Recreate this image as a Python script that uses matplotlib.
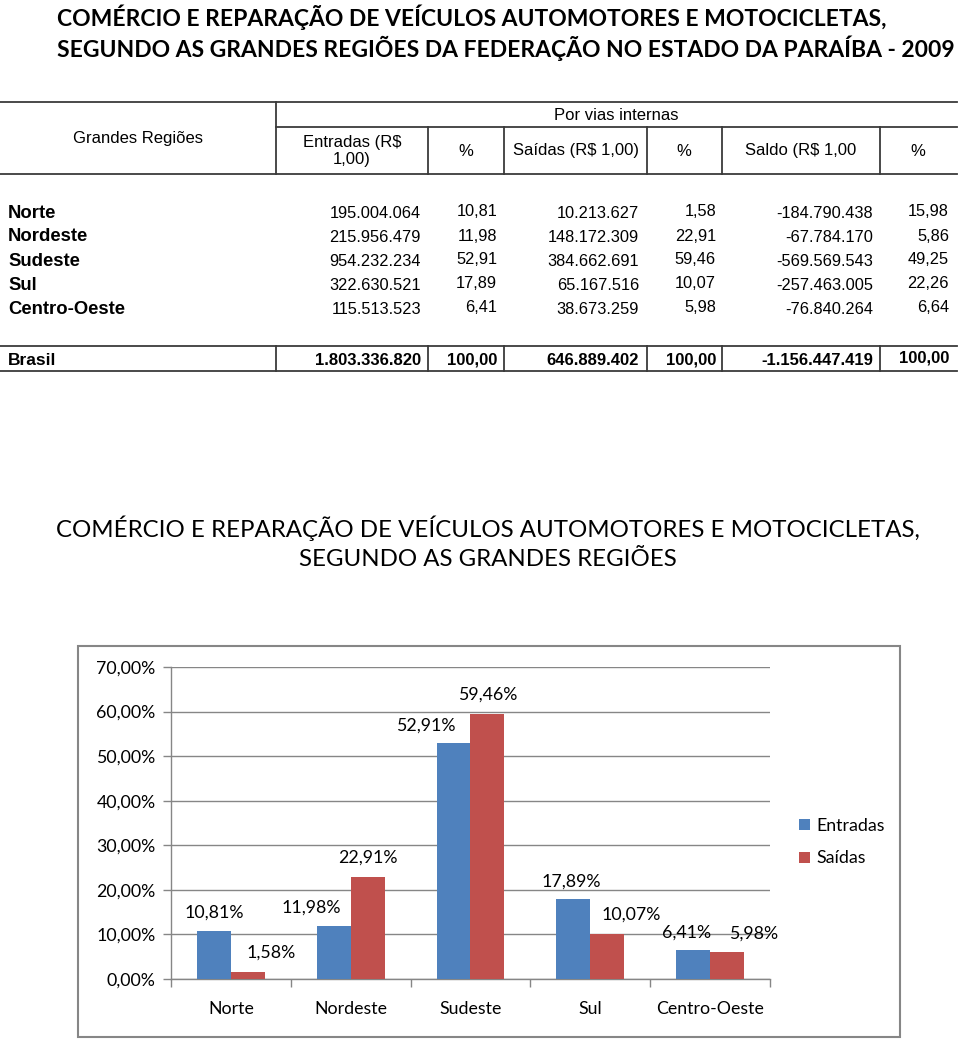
import numpy as np
import matplotlib.pyplot as plt
from matplotlib.lines import Line2D
from matplotlib.patches import Rectangle

# Data
regioes = ["Norte", "Nordeste", "Sudeste", "Sul", "Centro-Oeste"]
entradas = [195004064, 215956479, 954232234, 322630521, 115513523]
entradas_pct = [10.81, 11.98, 52.91, 17.89, 6.41]
saidas = [10213627, 148172309, 384662691, 65167516, 38673259]
saidas_pct = [1.58, 22.91, 59.46, 10.07, 5.98]
saldo = [-184790438, -67784170, -569569543, -257463005, -76840264]
saldo_pct = [15.98, 5.86, 49.25, 22.26, 6.64]
total_label = "Brasil"
total_entradas = 1803336820
total_saidas = 646889402
total_saldo = -1156447419
total_pct = 100.00

W, H = 960, 1039


def fx(x):
    return x / W


def fy(y):
    return 1 - y / H


def num(v):
    return f"{v:,}".replace(",", ".")


def pct(v):
    return f"{v:.2f}".replace(".", ",")


fig = plt.figure(figsize=(W / 100, H / 100), dpi=100)

# Top title
title_font = "Lato"
fig.text(fx(57), fy(17), "COMÉRCIO E REPARAÇÃO DE VEÍCULOS AUTOMOTORES E MOTOCICLETAS,",
         ha="left", va="center", fontsize=16.5, fontweight="bold", family=title_font)
fig.text(fx(57), fy(48), "SEGUNDO AS GRANDES REGIÕES DA FEDERAÇÃO NO ESTADO DA PARAÍBA - 2009",
         ha="left", va="center", fontsize=16.5, fontweight="bold", family=title_font)

# Table
tab = "Liberation Sans"
line_kw = dict(color="#3a3a3a", lw=1.3)


def hline(y, x0, x1):
    fig.add_artist(Line2D([fx(x0), fx(x1)], [fy(y), fy(y)], **line_kw))


def vline(x, y0, y1):
    fig.add_artist(Line2D([fx(x), fx(x)], [fy(y0), fy(y1)], **line_kw))


hline(102, 0, 957)
hline(127, 276, 957)
hline(174, 0, 957)
hline(346, 0, 957)
hline(371, 0, 957)
vline(276, 102, 174)
for xv in [428, 504, 647, 722, 880]:
    vline(xv, 127, 174)
for xv in [276, 428, 504, 647, 722, 880]:
    vline(xv, 346, 371)

hdr = dict(ha="center", va="center", fontsize=12, family=tab)
fig.text(fx(138), fy(138), "Grandes Regiões", **hdr)
fig.text(fx(616), fy(115), "Por vias internas", **hdr)
fig.text(fx(352), fy(151), "Entradas (R$\n1,00)", linespacing=1.2, **hdr)
fig.text(fx(466), fy(151), "%", **hdr)
fig.text(fx(576), fy(151), "Saídas (R$ 1,00)", **hdr)
fig.text(fx(684), fy(151), "%", **hdr)
fig.text(fx(801), fy(151), "Saldo (R$ 1,00", **hdr)
fig.text(fx(918), fy(151), "%", **hdr)

row_y = [214, 238, 262, 286, 310]
cell = dict(ha="right", va="center", fontsize=11.8, family=tab)
for i, r in enumerate(regioes):
    y = row_y[i]
    fig.text(fx(8), fy(y - 1), r, ha="left", va="center", fontsize=13.3,
             fontweight="bold", family=tab)
    fig.text(fx(421), fy(y), num(entradas[i]), **cell)
    fig.text(fx(497), fy(y - 2), pct(entradas_pct[i]), **cell)
    fig.text(fx(639), fy(y), num(saidas[i]), **cell)
    fig.text(fx(716), fy(y - 2), pct(saidas_pct[i]), **cell)
    fig.text(fx(873), fy(y), num(saldo[i]), **cell)
    fig.text(fx(949), fy(y - 2), pct(saldo_pct[i]), **cell)

bold = dict(ha="right", va="center", fontsize=12, fontweight="bold", family=tab)
fig.text(fx(8), fy(360), total_label, ha="left", va="center", fontsize=12.5,
         fontweight="bold", family=tab)
fig.text(fx(421), fy(360), num(total_entradas), **bold)
fig.text(fx(497), fy(360), pct(total_pct), **bold)
fig.text(fx(639), fy(360), num(total_saidas), **bold)
fig.text(fx(716), fy(360), pct(total_pct), **bold)
fig.text(fx(873), fy(360), num(total_saldo), **bold)
fig.text(fx(949), fy(358), pct(total_pct), **bold)

# Chart title
fig.text(fx(488), fy(543), "COMÉRCIO E REPARAÇÃO DE VEÍCULOS AUTOMOTORES E MOTOCICLETAS,\nSEGUNDO AS GRANDES REGIÕES",
         ha="center", va="center", fontsize=17.3, family=title_font, linespacing=1.45)

# Chart border
fig.add_artist(Rectangle((fx(78), fy(1037)), fx(900 - 78), (1037 - 646) / H,
                         transform=fig.transFigure, fill=False,
                         edgecolor="#868686", lw=1.5))

gray = "#868686"
ax = fig.add_axes([fx(171), fy(979), fx(770 - 171), (979 - 667) / H])
x = np.arange(len(regioes))
w = 0.283
ax.bar(x - w / 2, entradas_pct, w, color="#4F81BD", label="Entradas", zorder=3)
ax.bar(x + w / 2, saidas_pct, w, color="#C0504D", label="Saídas", zorder=3)
ax.set_xlim(-0.5, 4.5)
ax.set_ylim(0, 70)
ax.set_yticks(np.arange(0, 71, 10))
ax.set_yticklabels([pct(v) + "%" for v in np.arange(0, 71, 10)],
                   family=title_font, fontsize=12.8)
ax.yaxis.grid(True, color=gray, lw=1)
ax.set_axisbelow(True)
ax.set_xticks(np.arange(-0.5, 4.6, 1))
ax.set_xticklabels([])
ax.set_xticks(x, minor=True)
ax.set_xticklabels(regioes, minor=True, family=title_font, fontsize=12.8)
ax.tick_params(axis="x", which="major", length=6, color=gray, width=1)
ax.tick_params(axis="x", which="minor", length=0, pad=16)
ax.tick_params(axis="y", length=6, color=gray, width=1, pad=5)
for s in ["top", "right"]:
    ax.spines[s].set_visible(False)
for s in ["left", "bottom"]:
    ax.spines[s].set_color(gray)
    ax.spines[s].set_linewidth(1)

# value labels (offsets in pixels, as placed in the original)
off_e = [0, -22, -28, -2, -7]
off_s = [23, 0, 0, 24, 27]
for i in range(len(regioes)):
    ax.annotate(pct(entradas_pct[i]) + "%", (x[i] - w / 2, entradas_pct[i]),
                xytext=(off_e[i], 18), textcoords="offset pixels",
                ha="center", va="center", family=title_font, fontsize=12.8)
    ax.annotate(pct(saidas_pct[i]) + "%", (x[i] + w / 2, saidas_pct[i]),
                xytext=(off_s[i], 19), textcoords="offset pixels",
                ha="center", va="center", family=title_font, fontsize=12.8)

fig.legend(loc="center left", bbox_to_anchor=(fx(783), fy(842)),
           frameon=False, prop={"family": title_font, "size": 12.8},
           handlelength=0.6, handleheight=0.6, handletextpad=0.4,
           labelspacing=0.95)

fig.savefig("out.png", dpi=100)
